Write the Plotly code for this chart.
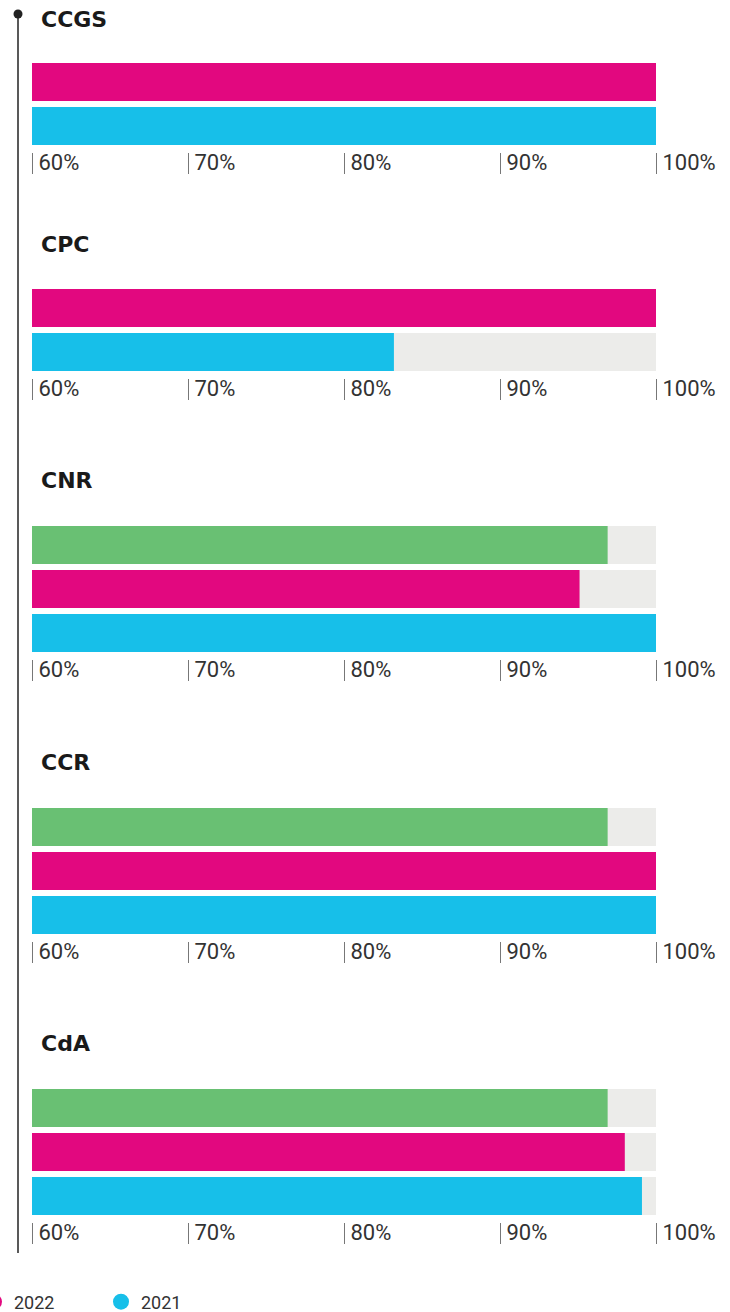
import plotly.graph_objects as go

W, H = 730, 1312
MB = 40  # bottom margin (legend lives there)

# ---- data ----
panels = ["CCGS", "CPC", "CNR", "CCR", "CdA"]
series_names = ["2023", "2022", "2021"]
v2023 = [None, None, 96.9, 96.9, 96.9]
v2022 = [100, 100, 95.1, 100, 98.0]
v2021 = [100, 83.2, 100, 100, 99.1]
tick_vals = [60, 70, 80, 90, 100]
tick_text = ["60%", "70%", "80%", "90%", "100%"]
track_max = 100

# ---- style ----
colors = {"2023": "#69C073", "2022": "#E2087F", "2021": "#17BFE9"}
track_color = "#ECECEA"
first_bar_top = [63, 289, 526, 808, 1089]   # pixel layout
title_center = [20, 244, 480, 762, 1043]
BAR_PX, PITCH = 38, 44
X0_PX, X1_PX = 32, 656
HP = H - MB

def py(px):
    return 1 - px / HP

series_vals = {"2023": v2023, "2022": v2022, "2021": v2021}

fig = go.Figure()
layout = {}
annotations = []

for i, name in enumerate(panels):
    k = i + 1
    xa = "x" if k == 1 else f"x{k}"
    ya = "y" if k == 1 else f"y{k}"
    present = [s for s in series_names if series_vals[s][i] is not None]
    n = len(present)
    ys = list(range(n))
    fig.add_trace(go.Bar(
        x=[track_max - 60] * n, base=60, y=ys, orientation="h",
        marker=dict(color=track_color, line=dict(width=0)),
        width=BAR_PX / PITCH, showlegend=False, hoverinfo="skip",
        xaxis=xa, yaxis=ya))
    for j, s in enumerate(present):
        v = series_vals[s][i]
        fig.add_trace(go.Bar(
            x=[v - 60], base=60, y=[j], orientation="h",
            marker=dict(color=colors[s], line=dict(width=0)),
            width=BAR_PX / PITCH, showlegend=False, name=s,
            xaxis=xa, yaxis=ya))
    top_px = first_bar_top[i] - 3
    bot_px = first_bar_top[i] + (n - 1) * PITCH + BAR_PX + 7
    yr = [(n - 1) + (BAR_PX + 7 - BAR_PX / 2) / PITCH, -0.5]
    layout[f"xaxis{'' if k == 1 else k}"] = dict(
        domain=[X0_PX / W, X1_PX / W], range=[60, 100], anchor=ya,
        tickmode="array", tickvals=tick_vals, ticktext=tick_text,
        ticks="outside", ticklen=21, tickwidth=1, tickcolor="#777777",
        showgrid=False, zeroline=False, showline=False,
        ticklabelposition="outside right", ticklabelstandoff=-9, ticklabelshift=6,
        tickfont=dict(family="Roboto", size=22, color="#333333"),
        fixedrange=True)
    layout[f"yaxis{'' if k == 1 else k}"] = dict(
        domain=[py(bot_px), py(top_px)], range=yr, anchor=xa,
        showticklabels=False, showgrid=False, zeroline=False, showline=False,
        ticks="", fixedrange=True)
    annotations.append(dict(
        text=f"<b>{name}</b>", xref="paper", yref="paper",
        x=39 / W, y=py(title_center[i]), xanchor="left", yanchor="middle",
        showarrow=False, font=dict(family="DejaVu Sans", size=22, color="#1a1a1a")))

# legend-only traces
for s in series_names:
    fig.add_trace(go.Scatter(
        x=[None], y=[None], mode="markers", name=s,
        marker=dict(color=colors[s], size=19, symbol="circle"),
        showlegend=True, xaxis="x", yaxis="y"))

shapes = [
    dict(type="line", xref="paper", yref="paper", x0=18 / W, x1=18 / W,
         y0=py(14), y1=py(1253), line=dict(color="#222222", width=1.5)),
    dict(type="circle", xref="paper", yref="paper", xsizemode="pixel", ysizemode="pixel",
         xanchor=18 / W, yanchor=py(14), x0=-4.5, x1=4.5, y0=-4.5, y1=4.5,
         fillcolor="#222222", line=dict(width=0)),
]

fig.update_layout(
    **layout,
    width=W, height=H,
    margin=dict(l=0, r=0, t=0, b=MB, autoexpand=False),
    barmode="overlay",
    paper_bgcolor="white", plot_bgcolor="white",
    annotations=annotations, shapes=shapes,
    showlegend=True,
    legend=dict(orientation="h", x=-153 / W, xanchor="left", y=py(1302), yanchor="middle",
                font=dict(family="Roboto", size=18, color="#333333"),
                entrywidth=82, entrywidthmode="pixels", itemsizing="trace",
                bgcolor="rgba(0,0,0,0)", traceorder="normal"),
)

fig.write_html("out.html", config={"displayModeBar": False},
               post_script="document.body.style.margin='0';")
